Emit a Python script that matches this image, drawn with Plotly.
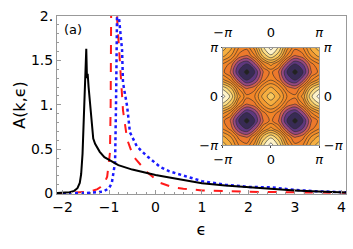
import plotly.graph_objects as go
import numpy as np

# ---- spectral function curves ----
eps_black = [-2.12, -2.0, -1.85, -1.75, -1.68, -1.63, -1.6, -1.57, -1.55, -1.53, -1.51, -1.49,
             -1.475, -1.46, -1.44, -1.41, -1.38, -1.34, -1.3, -1.2, -1.1, -1.0, -0.8, -0.5,
             -0.2, 0.0, 0.3, 0.5, 1.0, 1.5, 2.0, 2.5, 3.0, 3.5, 4.1]
A_black = [0.005, 0.008, 0.015, 0.03, 0.06, 0.12, 0.22, 0.45, 0.8, 1.2, 1.5, 1.63,
           1.3, 1.35, 1.2, 1.0, 0.78, 0.62, 0.56, 0.47, 0.41, 0.38, 0.32, 0.27,
           0.23, 0.21, 0.18, 0.16, 0.115, 0.09, 0.07, 0.05, 0.035, 0.022, 0.012]

eps_red = [-2.12, -1.6, -1.41, -1.25, -1.19, -1.1, -1.04, -0.98, -0.965, -0.955, -0.9,
           -0.83, -0.81, -0.76, -0.70, -0.61, -0.48, -0.18, 0.10, 0.38, 0.6, 1.0, 2.0, 3.0, 4.1]
A_red = [0.003, 0.01, 0.02, 0.05, 0.07, 0.12, 0.19, 0.46, 1.0, 2.0, 3.0,
         2.0, 1.81, 1.43, 0.94, 0.61, 0.42, 0.24, 0.12, 0.07, 0.055, 0.035, 0.02, 0.012, 0.008]

eps_blue = [-2.12, -1.5, -1.13, -1.0, -0.94, -0.87, -0.85, -0.835, -0.815, -0.79, -0.72,
            -0.70, -0.61, -0.55, -0.40, -0.18, 0.10, 0.3, 0.55, 1.0, 1.5, 2.0, 2.5, 3.0, 3.5, 4.1]
A_blue = [0.002, 0.006, 0.02, 0.06, 0.12, 0.35, 1.0, 2.0, 2.6, 2.0, 1.62,
          1.25, 0.98, 0.69, 0.53, 0.42, 0.30, 0.25, 0.21, 0.14, 0.10, 0.075, 0.07, 0.04, 0.025, 0.015]

x_ticks = [-2, -1, 0, 1, 2, 3, 4]
x_ticktext = ["\u22122", "\u22121", "0", "1", "2", "3", "4"]
y_ticks = [0, 0.5, 1, 1.5, 2]
y_ticktext = ["0", "0.5", "1.", "1.5", "2."]

# ---- inset map (estimated levels on a 13x13 grid, kx, ky = -pi..pi step pi/6) ----
k_grid = [m * np.pi / 6 for m in range(-6, 7)]
Z_inset = [
    [1.5, 1.07, 0.25, 0.0, 0.75, 1.93, 2.5, 1.93, 0.75, 0.0, 0.25, 1.07, 1.5],
    [1.07, 0.63, -0.22, -0.5, 0.22, 1.38, 1.93, 1.38, 0.22, -0.5, -0.22, 0.63, 1.07],
    [0.25, -0.22, -1.13, -1.5, -0.88, 0.22, 0.75, 0.22, -0.88, -1.5, -1.13, -0.22, 0.25],
    [0.0, -0.5, -1.5, -2.0, -1.5, -0.5, 0.0, -0.5, -1.5, -2.0, -1.5, -0.5, 0.0],
    [0.75, 0.22, -0.88, -1.5, -1.13, -0.22, 0.25, -0.22, -1.13, -1.5, -0.88, 0.22, 0.75],
    [1.93, 1.38, 0.22, -0.5, -0.22, 0.63, 1.07, 0.63, -0.22, -0.5, 0.22, 1.38, 1.93],
    [2.5, 1.93, 0.75, 0.0, 0.25, 1.07, 1.5, 1.07, 0.25, 0.0, 0.75, 1.93, 2.5],
    [1.93, 1.38, 0.22, -0.5, -0.22, 0.63, 1.07, 0.63, -0.22, -0.5, 0.22, 1.38, 1.93],
    [0.75, 0.22, -0.88, -1.5, -1.13, -0.22, 0.25, -0.22, -1.13, -1.5, -0.88, 0.22, 0.75],
    [0.0, -0.5, -1.5, -2.0, -1.5, -0.5, 0.0, -0.5, -1.5, -2.0, -1.5, -0.5, 0.0],
    [0.25, -0.22, -1.13, -1.5, -0.88, 0.22, 0.75, 0.22, -0.88, -1.5, -1.13, -0.22, 0.25],
    [1.07, 0.63, -0.22, -0.5, 0.22, 1.38, 1.93, 1.38, 0.22, -0.5, -0.22, 0.63, 1.07],
    [1.5, 1.07, 0.25, 0.0, 0.75, 1.93, 2.5, 1.93, 0.75, 0.0, 0.25, 1.07, 1.5],
]
pi_vals = [-np.pi, 0, np.pi]
pi_text = ["\u2212<i>\u03c0</i>", "0", "<i>\u03c0</i>"]

# Sunset-like palette (value positions over -2 .. 2.5)
sunset = [
    [0.000, "#222222"], [0.067, "#33294d"], [0.133, "#51337a"], [0.200, "#7c4288"],
    [0.267, "#b04f78"], [0.333, "#e0683e"], [0.400, "#f07e26"], [0.533, "#f28a28"],
    [0.644, "#f4a033"], [0.733, "#f7bc4c"], [0.822, "#fad878"], [0.911, "#fdf0c0"],
    [1.000, "#ffffff"],
]

FONT = "DejaVu Sans"
fig = go.Figure()

fig.add_trace(go.Scatter(x=eps_red, y=A_red, mode="lines",
                         line=dict(color="#ff1a1a", width=2, dash="dash"), showlegend=False))
fig.add_trace(go.Scatter(x=eps_blue, y=A_blue, mode="lines",
                         line=dict(color="#1a1aff", width=2.5, dash="dot"), showlegend=False))
fig.add_trace(go.Scatter(x=eps_black, y=A_black, mode="lines",
                         line=dict(color="black", width=2), showlegend=False))

fig.add_trace(go.Contour(
    x=k_grid, y=k_grid, z=Z_inset, xaxis="x2", yaxis="y2",
    colorscale=sunset, zmin=-2.0, zmax=2.5, showscale=False,
    contours=dict(start=-1.85, end=2.35, size=0.35, coloring="fill"),
    line=dict(color="#2a2a2a", width=0.6, smoothing=1.0),
    hoverinfo="skip",
))
# dummy trace so the mirrored inset axes render
fig.add_trace(go.Scatter(x=[None], y=[None], xaxis="x3", yaxis="y3", showlegend=False,
                         hoverinfo="skip"))

frame = "#999999"
W, H = 353, 249
L, R, T, B = 57, 7, 16, 55
pw, ph = W - L - R, H - T - B


def px(x):
    return (x - L) / pw


def py(y):
    return (H - B - y) / ph


fig.update_layout(
    template=None,
    width=W, height=H,
    margin=dict(l=L, r=R, t=T, b=B, autoexpand=False),
    paper_bgcolor="white", plot_bgcolor="white",
    font=dict(family=FONT, size=14, color="black"),
    showlegend=False,
    xaxis=dict(range=[-2.12, 4.1], tickvals=x_ticks, ticktext=x_ticktext,
               ticks="inside", ticklen=4, tickcolor=frame, showline=True,
               linecolor=frame, linewidth=1, mirror=True, showgrid=False, zeroline=False,
               minor=dict(ticks="inside", ticklen=2, dtick=0.2, tickcolor=frame),
               tickfont=dict(size=14), automargin=False,
               title=dict(text="\u03f5", font=dict(size=16), standoff=10)),
    yaxis=dict(range=[-0.005, 2.0], tickvals=y_ticks, ticktext=y_ticktext,
               ticks="inside", ticklen=4, tickcolor=frame, showline=True,
               linecolor=frame, linewidth=1, mirror=True, showgrid=False, zeroline=False,
               minor=dict(ticks="inside", ticklen=2, dtick=0.1, tickcolor=frame),
               tickfont=dict(size=14), automargin=False,
               title=dict(text="A(k,\u03f5)", font=dict(size=16), standoff=1)),
    xaxis2=dict(domain=[0.573, 0.907], anchor="y2", range=[-np.pi, np.pi],
                tickvals=pi_vals, ticktext=pi_text, ticks="outside", ticklen=2,
                showline=True, linecolor=frame, mirror=True, showgrid=False, zeroline=False,
                tickfont=dict(size=13), automargin=False),
    xaxis3=dict(overlaying="x2", anchor="y3", side="top", range=[-np.pi, np.pi],
                tickvals=pi_vals, ticktext=pi_text, ticks="outside", ticklen=4,
                tickcolor="white", showgrid=False, zeroline=False, tickfont=dict(size=13),
                automargin=False),
    yaxis2=dict(domain=[0.275, 0.822], anchor="x2", range=[-np.pi, np.pi],
                tickvals=pi_vals, ticktext=pi_text, ticks="outside", ticklen=1,
                showline=True, linecolor=frame, mirror=True, showgrid=False, zeroline=False,
                tickfont=dict(size=13), automargin=False),
    yaxis3=dict(overlaying="y2", anchor="x3", side="right", range=[-np.pi, np.pi],
                tickvals=pi_vals, ticktext=pi_text, ticks="outside", ticklen=1,
                tickcolor="white", showgrid=False, zeroline=False, tickfont=dict(size=13),
                automargin=False),
    annotations=[
        dict(text="(a)", x=px(73), y=py(30), xref="paper", yref="paper", showarrow=False,
             xanchor="center", yanchor="middle", font=dict(size=13)),
    ],
)

fig.write_html(
    "out.html",
    config={"displayModeBar": False},
    post_script="document.body.style.margin='0';document.body.style.overflow='hidden';",
)
